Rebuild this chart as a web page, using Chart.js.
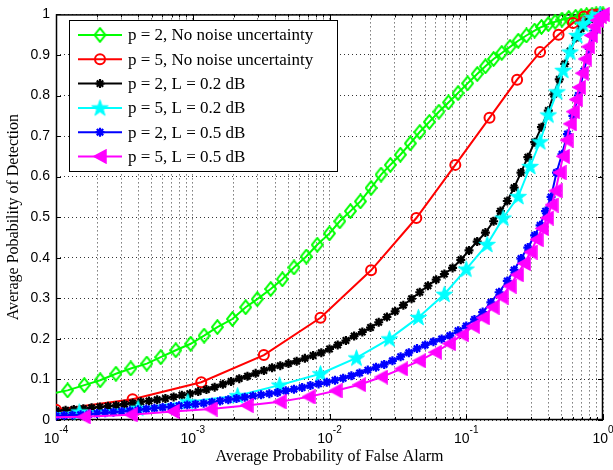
<!DOCTYPE html>
<html>
<head>
<meta charset="utf-8">
<script src="https://cdn.jsdelivr.net/npm/chart.js@4.4.0/dist/chart.umd.min.js"></script>
<style>
  html, body { margin: 0; padding: 0; background: #fff; }
  canvas { display: block; }
</style>
</head>
<body>
<canvas id="chart" width="613" height="470"></canvas>
<script>
// Pd vs Pf (log x axis). Pf is kept as log10 values.

const greenLogPf = [-4.1, -3.915, -3.793, -3.677, -3.562, -3.453, -3.336, -3.234, -3.124, -3.015,
  -2.917, -2.82, -2.71, -2.613, -2.528, -2.43, -2.345, -2.26, -2.17, -2.09,
  -2.0, -1.925, -1.847, -1.774, -1.696, -1.623, -1.555, -1.482, -1.409, -1.34,
  -1.27, -1.2, -1.13, -1.06, -0.99, -0.92, -0.86, -0.8, -0.74, -0.68,
  -0.62, -0.56, -0.5, -0.45, -0.4, -0.35, -0.3, -0.25, -0.2, -0.16,
  -0.12, -0.08, -0.05, -0.02, 0];
const greenPd = [0.06, 0.073, 0.086, 0.098, 0.114, 0.127, 0.139, 0.155, 0.172, 0.188,
  0.208, 0.229, 0.249, 0.278, 0.298, 0.323, 0.347, 0.376, 0.403, 0.432,
  0.46, 0.49, 0.515, 0.539, 0.572, 0.605, 0.629, 0.654, 0.682, 0.71,
  0.735, 0.76, 0.783, 0.806, 0.83, 0.853, 0.872, 0.89, 0.905, 0.92,
  0.935, 0.948, 0.96, 0.969, 0.976, 0.982, 0.987, 0.991, 0.994, 0.996,
  0.998, 0.999, 1.0, 1.0, 1.0];

const redLogPf = [-4.0, -3.44, -2.938, -2.48, -2.066, -1.696, -1.365, -1.08, -0.83, -0.628,
  -0.46, -0.325, -0.219, -0.139, -0.08, -0.044, -0.022];
const redPd = [0.025, 0.051, 0.093, 0.16, 0.252, 0.369, 0.498, 0.629, 0.745, 0.839,
  0.907, 0.95, 0.979, 0.995, 0.999, 1.0, 1.0];

const blackLogPf = [-4.0, -3.93, -3.87, -3.8, -3.74, -3.68, -3.62, -3.56, -3.5, -3.44,
  -3.38, -3.32, -3.26, -3.2, -3.14, -3.08, -3.02, -2.96, -2.9, -2.84,
  -2.78, -2.72, -2.66, -2.6, -2.54, -2.48, -2.42, -2.36, -2.3, -2.24,
  -2.18, -2.12, -2.06, -2.0, -1.94, -1.88, -1.82, -1.76, -1.7, -1.64,
  -1.58, -1.52, -1.46, -1.4, -1.34, -1.28, -1.22, -1.16, -1.1, -1.04,
  -0.98, -0.92, -0.86, -0.8, -0.75, -0.7, -0.65, -0.6, -0.55, -0.5,
  -0.45, -0.4, -0.36, -0.32, -0.28, -0.24, -0.2, -0.16, -0.12, -0.08,
  -0.04, 0];
const blackPd = [0.023, 0.024, 0.026, 0.028, 0.03, 0.032, 0.034, 0.036, 0.039, 0.042,
  0.045, 0.047, 0.05, 0.053, 0.057, 0.061, 0.065, 0.07, 0.075, 0.081,
  0.088, 0.095, 0.102, 0.108, 0.115, 0.122, 0.129, 0.134, 0.139, 0.145,
  0.152, 0.159, 0.166, 0.175, 0.185, 0.196, 0.207, 0.217, 0.228, 0.241,
  0.254, 0.268, 0.283, 0.299, 0.315, 0.331, 0.346, 0.36, 0.375, 0.395,
  0.418, 0.44, 0.462, 0.49, 0.515, 0.54, 0.573, 0.61, 0.648, 0.685,
  0.722, 0.763, 0.803, 0.84, 0.878, 0.91, 0.942, 0.965, 0.98, 0.99,
  0.997, 1.0];

const cyanLogPf = [-4.25, -3.83, -3.4, -3.036, -2.672, -2.365, -2.066, -1.803, -1.562, -1.35,
  -1.16, -1.0, -0.847, -0.73, -0.62, -0.533, -0.46, -0.4, -0.336, -0.292,
  -0.241, -0.19, -0.146, -0.08, -0.022];
const cyanPd = [0.012, 0.02, 0.029, 0.045, 0.06, 0.086, 0.114, 0.153, 0.2, 0.253,
  0.31, 0.372, 0.433, 0.498, 0.551, 0.625, 0.686, 0.752, 0.809, 0.862,
  0.907, 0.948, 0.976, 0.993, 1.0];

const blueLogPf = [-4.0, -3.94, -3.88, -3.82, -3.76, -3.7, -3.64, -3.58, -3.52, -3.46,
  -3.4, -3.34, -3.28, -3.22, -3.16, -3.1, -3.04, -2.98, -2.92, -2.86,
  -2.8, -2.74, -2.68, -2.62, -2.56, -2.5, -2.44, -2.38, -2.32, -2.26,
  -2.2, -2.14, -2.08, -2.02, -1.96, -1.9, -1.84, -1.78, -1.72, -1.66,
  -1.6, -1.54, -1.48, -1.42, -1.36, -1.3, -1.24, -1.18, -1.12, -1.06,
  -1.0, -0.94, -0.88, -0.82, -0.76, -0.7, -0.65, -0.6, -0.55, -0.5,
  -0.46, -0.42, -0.38, -0.34, -0.3, -0.26, -0.22, -0.18, -0.14, -0.1,
  -0.06, -0.03, 0];
const bluePd = [0.01, 0.011, 0.012, 0.013, 0.014, 0.016, 0.018, 0.019, 0.021, 0.023,
  0.025, 0.027, 0.029, 0.031, 0.033, 0.035, 0.037, 0.039, 0.041, 0.044,
  0.047, 0.05, 0.053, 0.056, 0.059, 0.062, 0.065, 0.068, 0.072, 0.076,
  0.08, 0.085, 0.089, 0.093, 0.098, 0.103, 0.109, 0.116, 0.123, 0.13,
  0.137, 0.146, 0.156, 0.166, 0.176, 0.185, 0.193, 0.2, 0.208, 0.22,
  0.232, 0.248, 0.266, 0.29, 0.315, 0.343, 0.37, 0.398, 0.425, 0.455,
  0.48, 0.515, 0.55, 0.61, 0.655, 0.705, 0.75, 0.8, 0.86, 0.915,
  0.96, 0.985, 1.0];

const magentaLogPf = [-4.2, -3.796, -3.453, -3.146, -2.869, -2.606, -2.365, -2.153, -1.956, -1.781,
  -1.62, -1.474, -1.343, -1.226, -1.124, -1.029, -0.949, -0.876, -0.807, -0.741,
  -0.682, -0.628, -0.577, -0.529, -0.485, -0.445, -0.409, -0.376, -0.347, -0.318,
  -0.292, -0.266, -0.241, -0.219, -0.197, -0.175, -0.153, -0.131, -0.109, -0.088,
  -0.066, -0.044, -0.022, 0];
const magentaPd = [0.005, 0.008, 0.013, 0.021, 0.027, 0.036, 0.045, 0.057, 0.072, 0.087,
  0.106, 0.126, 0.146, 0.167, 0.188, 0.21, 0.231, 0.252, 0.278, 0.303,
  0.33, 0.358, 0.386, 0.414, 0.445, 0.472, 0.498, 0.53, 0.565, 0.61,
  0.65, 0.69, 0.73, 0.76, 0.79, 0.82, 0.855, 0.89, 0.92, 0.948,
  0.97, 0.985, 0.995, 1.0];

const seriesLabels = [
  'p = 2, No noise uncertainty',
  'p = 5, No noise uncertainty',
  'p = 2, L = 0.2 dB',
  'p = 5, L = 0.2 dB',
  'p = 2, L = 0.5 dB',
  'p = 5, L = 0.5 dB'
];

const xTickValues = [1e-4, 1e-3, 1e-2, 1e-1, 1];
const xTickExponents = ['-4', '-3', '-2', '-1', '0'];
const yTickValues = [0, 0.1, 0.2, 0.3, 0.4, 0.5, 0.6, 0.7, 0.8, 0.9, 1];
const yTickLabels = ['0', '0.1', '0.2', '0.3', '0.4', '0.5', '0.6', '0.7', '0.8', '0.9', '1'];

// every 1..9 x 10^k position, for the dotted vertical grid and the minor ticks
const xGridValues = [];
for (let k = -4; k < 0; k++) {
  for (let m = 1; m <= 9; m++) xGridValues.push({ value: m * Math.pow(10, k), major: m === 1 });
}
xGridValues.push({ value: 1, major: true });

const SERIF = '"Liberation Serif", "Times New Roman", serif';
const SANS = '"Liberation Sans", Arial, sans-serif';

function pts(logPf, pd) {
  return logPf.map((e, i) => ({ x: Math.pow(10, e), y: pd[i] }));
}

function makeMarker(w, h, draw) {
  const c = document.createElement('canvas');
  c.width = w; c.height = h;
  draw(c.getContext('2d'), w, h);
  return c;
}

const diamondImg = makeMarker(13, 16, (ctx) => {
  ctx.strokeStyle = '#00ff00'; ctx.lineWidth = 2;
  ctx.beginPath();
  ctx.moveTo(6.5, 1.2); ctx.lineTo(12, 8); ctx.lineTo(6.5, 14.8); ctx.lineTo(1, 8);
  ctx.closePath(); ctx.stroke();
});

const pentagramImg = makeMarker(19, 19, (ctx) => {
  ctx.fillStyle = '#00ffff'; ctx.strokeStyle = '#00ffff'; ctx.lineWidth = 1;
  ctx.beginPath();
  for (let i = 0; i < 10; i++) {
    const r = i % 2 === 0 ? 8.6 : 3.4;
    const a = -Math.PI / 2 + i * Math.PI / 5;
    const px = 9.5 + r * Math.cos(a), py = 10 + r * Math.sin(a);
    if (i === 0) ctx.moveTo(px, py); else ctx.lineTo(px, py);
  }
  ctx.closePath(); ctx.fill(); ctx.stroke();
});

const leftTriImg = makeMarker(14, 15, (ctx) => {
  ctx.fillStyle = '#ff00ff'; ctx.strokeStyle = '#ff00ff'; ctx.lineWidth = 1.5;
  ctx.beginPath();
  ctx.moveTo(1, 7.5); ctx.lineTo(13, 1); ctx.lineTo(13, 14);
  ctx.closePath(); ctx.fill(); ctx.stroke();
});

const lineClip = { left: 0, top: false, right: false, bottom: false };

const series = [
  { label: seriesLabels[0], data: pts(greenLogPf, greenPd), color: '#00ff00',
    pointStyle: diamondImg, radius: 6, fill: 'rgba(0,0,0,0)', bw: 2, order: 5 },
  { label: seriesLabels[1], data: pts(redLogPf, redPd), color: '#ff0000',
    pointStyle: 'circle', radius: 5, fill: 'rgba(0,0,0,0)', bw: 2, order: 4 },
  { label: seriesLabels[2], data: pts(blackLogPf, blackPd), color: '#000000',
    pointStyle: 'star', radius: 4.5, fill: '#000000', bw: 2.2, order: 3 },
  { label: seriesLabels[3], data: pts(cyanLogPf, cyanPd), color: '#00ffff',
    pointStyle: pentagramImg, radius: 8, fill: '#00ffff', bw: 1, order: 2 },
  { label: seriesLabels[4], data: pts(blueLogPf, bluePd), color: '#0000ff',
    pointStyle: 'star', radius: 4.5, fill: '#0000ff', bw: 2.2, order: 1 },
  { label: seriesLabels[5], data: pts(magentaLogPf, magentaPd), color: '#ff00ff',
    pointStyle: leftTriImg, radius: 6, fill: '#ff00ff', bw: 1, order: 0 }
];

const datasets = series.map(s => ({
  label: s.label,
  data: s.data,
  borderColor: s.color,
  borderWidth: 2,
  pointStyle: s.pointStyle,
  pointRadius: s.radius,
  pointBorderColor: s.color,
  pointBackgroundColor: s.fill,
  pointBorderWidth: s.bw,
  tension: 0,
  fill: false,
  order: s.order,
  clip: lineClip
}));

// box, inner tick marks and the 10^k labels, MATLAB style
const matlabAxes = {
  id: 'matlabAxes',
  beforeDatasetsDraw(chart) {
    const { ctx, chartArea: a, scales } = chart;
    ctx.save();
    ctx.strokeStyle = '#000';
    ctx.lineWidth = 1;
    ctx.beginPath();
    yTickValues.forEach(v => {
      const py = Math.round(scales.y.getPixelForValue(v)) + 0.5;
      ctx.moveTo(a.left, py); ctx.lineTo(a.left + 5, py);
      ctx.moveTo(a.right, py); ctx.lineTo(a.right - 5, py);
    });
    xGridValues.forEach(t => {
      const px = Math.round(scales.x.getPixelForValue(t.value)) + 0.5;
      const len = t.major ? 6 : 3;
      ctx.moveTo(px, a.bottom); ctx.lineTo(px, a.bottom - len);
      ctx.moveTo(px, a.top); ctx.lineTo(px, a.top + len);
    });
    ctx.stroke();
    ctx.lineWidth = 1.5;
    ctx.strokeRect(a.left + 0.5, a.top + 0.5, a.right - a.left - 1, a.bottom - a.top - 1);
    ctx.restore();
  },
  afterDraw(chart) {
    const { ctx, scales } = chart;
    ctx.save();
    ctx.fillStyle = '#000';
    ctx.textBaseline = 'alphabetic';
    xTickValues.forEach((v, i) => {
      const px = scales.x.getPixelForValue(v);
      ctx.font = '14px ' + SANS;
      const wBase = ctx.measureText('10').width;
      ctx.font = '10px ' + SANS;
      const wExp = ctx.measureText(xTickExponents[i]).width;
      const x0 = px - (wBase + wExp) / 2;
      ctx.font = '14px ' + SANS;
      ctx.fillText('10', x0, 443);
      ctx.font = '10px ' + SANS;
      ctx.fillText(xTickExponents[i], x0 + wBase, 433);
    });
    ctx.restore();
  }
};

const legendBox = {
  id: 'legendBox',
  afterDraw(chart) {
    const { ctx } = chart;
    const box = { x: 69.5, y: 20.5, w: 268, h: 151 };
    ctx.save();
    ctx.fillStyle = '#fff';
    ctx.fillRect(box.x, box.y, box.w, box.h);
    ctx.strokeStyle = '#000';
    ctx.lineWidth = 1;
    ctx.strokeRect(box.x, box.y, box.w, box.h);
    series.forEach((s, i) => {
      const y = 35 + i * 24.3;
      ctx.strokeStyle = s.color;
      ctx.lineWidth = 2;
      ctx.beginPath();
      ctx.moveTo(78, y); ctx.lineTo(122, y);
      ctx.stroke();
      ctx.fillStyle = s.fill;
      ctx.strokeStyle = s.color;
      ctx.lineWidth = s.bw;
      Chart.helpers.drawPoint(ctx, { pointStyle: s.pointStyle, radius: s.radius, borderWidth: s.bw, rotation: 0 }, 100, y);
      ctx.fillStyle = '#000';
      ctx.font = '17px ' + SERIF;
      ctx.textBaseline = 'middle';
      ctx.fillText(s.label, 128, y + 1);
    });
    ctx.restore();
  }
};

new Chart(document.getElementById('chart'), {
  type: 'line',
  data: { datasets },
  options: {
    responsive: false,
    animation: false,
    devicePixelRatio: 1,
    events: [],
    layout: { padding: { top: 12, right: 10, left: 0, bottom: 0 } },
    plugins: { legend: { display: false }, tooltip: { enabled: false } },
    scales: {
      x: {
        type: 'logarithmic',
        min: 1e-4,
        max: 1,
        afterBuildTicks: (scale) => { scale.ticks = xGridValues.map(t => ({ value: t.value, major: t.major })); },
        afterFit: (scale) => { scale.height = 50; },
        ticks: { display: false },
        grid: { color: 'rgba(0,0,0,0.8)', lineWidth: 1, drawTicks: false },
        border: { display: false, dash: [1, 3] },
        title: {
          display: true,
          text: 'Average Probability of False Alarm',
          color: '#000',
          font: { family: SERIF, size: 16 },
          padding: { top: 0, bottom: 4 }
        }
      },
      y: {
        type: 'linear',
        min: 0,
        max: 1,
        afterBuildTicks: (scale) => { scale.ticks = yTickValues.map(v => ({ value: v })); },
        afterFit: (scale) => { scale.width = 56; },
        ticks: {
          color: '#000',
          font: { family: SANS, size: 14 },
          padding: 6,
          callback: (v, i) => yTickLabels[i]
        },
        grid: { color: 'rgba(0,0,0,0.8)', lineWidth: 1, drawTicks: false },
        border: { display: false, dash: [1, 3] },
        title: {
          display: true,
          text: 'Average Pobability of Detection',
          color: '#000',
          font: { family: SERIF, size: 16 },
          padding: { top: 4, bottom: 0 }
        }
      }
    }
  },
  plugins: [matlabAxes, legendBox]
});
</script>
</body>
</html>
